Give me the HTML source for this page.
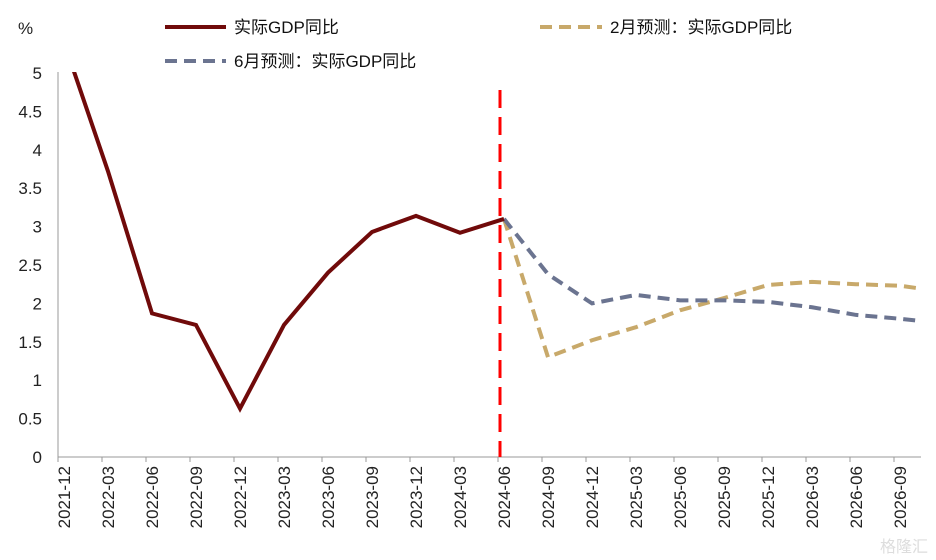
<!DOCTYPE html>
<html><head><meta charset="utf-8"><style>
body{margin:0;background:#fff;}
svg{display:block;font-family:"Liberation Sans","Noto Sans CJK SC",sans-serif;}
</style></head><body>
<svg id="chart" width="936" height="560" viewBox="0 0 936 560" xmlns="http://www.w3.org/2000/svg">
<defs><clipPath id="plotclip"><rect x="58" y="72" width="863" height="390"/></clipPath></defs>
<text x="18" y="34" font-size="17" fill="#222">%</text>
<g>
<line x1="165" y1="27" x2="226" y2="27" stroke="#700A0A" stroke-width="4"/>
<text x="234" y="33" font-size="17" fill="#111">实际GDP同比</text>
<line x1="540" y1="27" x2="602" y2="27" stroke="#C8A96A" stroke-width="4" stroke-dasharray="12,7"/>
<text x="610" y="33" font-size="17" fill="#111">2月预测：实际GDP同比</text>
<line x1="165" y1="61" x2="226" y2="61" stroke="#6B7490" stroke-width="4" stroke-dasharray="12,7"/>
<text x="234" y="67" font-size="17" fill="#111">6月预测：实际GDP同比</text>
</g>
<g id="axes"></g>
<g id="series" clip-path="url(#plotclip)"></g>
<text x="928" y="552" font-size="16" fill="#ddd" text-anchor="end">格隆汇</text>
</svg>
<script>
const categories=["2021-12","2022-03","2022-06","2022-09","2022-12","2023-03","2023-06","2023-09","2023-12","2024-03","2024-06","2024-09","2024-12","2025-03","2025-06","2025-09","2025-12","2026-03","2026-06","2026-09","2026-12"];
const labelCount=20;
const actual=[5.4,3.72,1.87,1.72,0.63,1.72,2.4,2.93,3.14,2.92,3.1,null,null,null,null,null,null,null,null,null,null];
const febForecast=[null,null,null,null,null,null,null,null,null,null,3.1,1.3,1.52,1.69,1.91,2.07,2.24,2.28,2.25,2.23,2.15];
const junForecast=[null,null,null,null,null,null,null,null,null,null,3.1,2.38,2.0,2.11,2.04,2.04,2.02,1.95,1.85,1.8,1.74];
const yTicks=[0,0.5,1,1.5,2,2.5,3,3.5,4,4.5,5];
const splitCategory="2024-06";
const NS="http://www.w3.org/2000/svg";
function x(i){return 64+44*i;}
function tickX(i){return 58+44*i;}
function y(v){return 457-76.8*v;}
const axes=document.getElementById('axes'),series=document.getElementById('series');
function mk(tag,attrs,parent){const e=document.createElementNS(NS,tag);for(const k in attrs)e.setAttribute(k,attrs[k]);parent.appendChild(e);return e;}
let e=mk('line',{x1:58,y1:72,x2:58,y2:457,stroke:'#999','stroke-width':1},axes);


e=mk('line',{x1:58,y1:457,x2:921,y2:457,stroke:'#999','stroke-width':1},axes);


yTicks.forEach(v=>{const t=mk('text',{x:42,y:y(v)+6,'font-size':17,fill:'#222','text-anchor':'end'},axes);t.textContent=String(v);

});
for(let i=0;i<labelCount;i++){
 const tk=mk('line',{x1:tickX(i),y1:457,x2:tickX(i),y2:462,stroke:'#999'},axes);
 
 
 const lx=tickX(i)+12;
 const t=mk('text',{x:0,y:0,'font-size':17,fill:'#222','text-anchor':'end',transform:`translate(${lx},466) rotate(-90)`},axes);
 t.textContent=categories[i];
 
 
}
function path(arr){let d='';arr.forEach((v,i)=>{if(v==null)return;d+=(d?'L':'M')+x(i)+','+y(v);});return d;}
let p=mk('path',{d:path(febForecast),fill:'none',stroke:'#C8A96A','stroke-width':4,'stroke-dasharray':'12,7'},series);


p=mk('path',{d:path(junForecast),fill:'none',stroke:'#6B7490','stroke-width':4,'stroke-dasharray':'12,7'},series);


p=mk('path',{d:path(actual),fill:'none',stroke:'#700A0A','stroke-width':4,'stroke-linejoin':'miter'},series);


const si=categories.indexOf(splitCategory);
p=mk('line',{x1:x(si)-4,y1:90,x2:x(si)-4,y2:457,stroke:'#FF0000','stroke-width':3,'stroke-dasharray':'18,9'},axes);


</script>
</body></html>
